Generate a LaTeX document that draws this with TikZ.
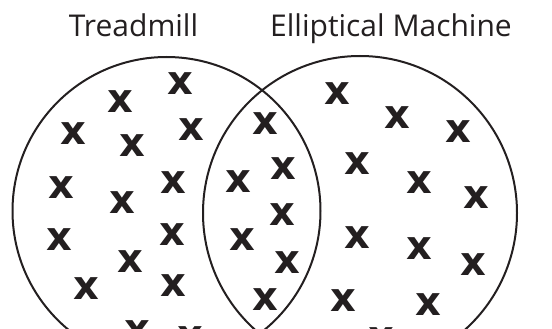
\documentclass[tikz,border=0pt]{standalone}
\usepackage{fontspec}
\setmainfont{Open Sans}
\newfontfamily\markfont{DejaVu Sans}[BoldFont={DejaVu Sans Bold}]
\definecolor{ink}{HTML}{231F20}
\begin{document}
\begin{tikzpicture}[x=1pt,y=-1pt,
  mk/.style={inner sep=0pt,text=ink,font=\markfont\bfseries\fontsize{40}{40}\selectfont},
  ring/.style={draw=ink,line width=2pt},
  lbl/.style={inner sep=0pt,anchor=base,text=ink,font=\fontsize{30}{34}\selectfont}]
\useasboundingbox (0,0) rectangle (552,329);
\clip (0,0) rectangle (552,329);
\node[lbl] (t1) at (133.5,37) {Treadmill};
\node[lbl] (t2) at (391,37) {Elliptical Machine};
\draw[ring] (166.5,211) circle[radius=154];
\draw[ring] (360,213) circle[radius=157];
% left only
\foreach \p [count=\i] in {(180,84),(120,102),(73,134),(132,146),(191,130),(61,188),(122,203),(173,183),(59,240),(130,262),(172,235),(86,289),(173,286),(137,332),(190,338)}
  \node[mk] (a\i) at \p {x};
% intersection
\foreach \p [count=\i] in {(265,124),(238,182),(283,169),(282,215),(242,240),(287,263),(265,300)}
  \node[mk] (b\i) at \p {x};
% right only
\foreach \p [count=\i] in {(337,94),(397,118),(458,132),(357,164),(419,183),(476,198),(357,238),(419,249),(473,265),(343,301),(428,305),(381,339)}
  \node[mk] (c\i) at \p {x};
\end{tikzpicture}
\end{document}
